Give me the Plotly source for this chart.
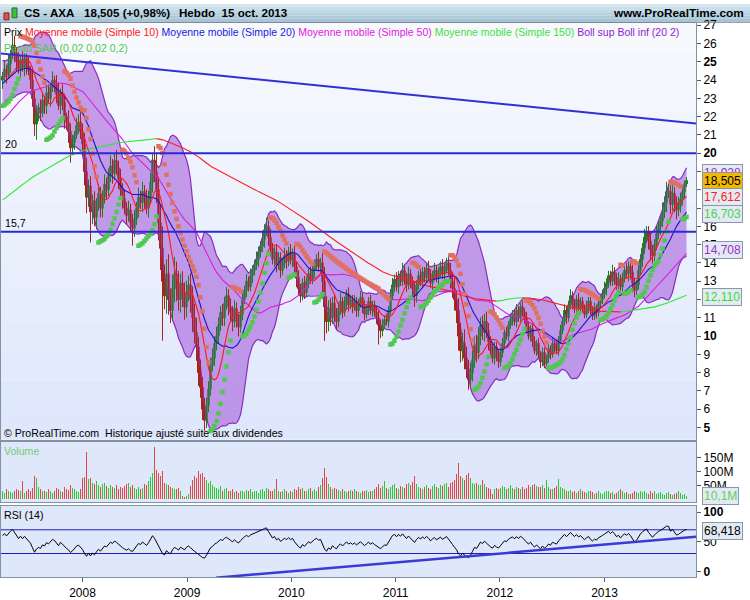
import numpy as np
import pandas as pd
import plotly.graph_objects as go

# ---------------- data ----------------
LAST_DATE = "2013-10-15"

# weekly closes before the visible window (needed by the long averages)
PRE_CLOSE = [
    12.4, 12.7, 12.3, 12.0, 12.2, 12.6, 12.8, 12.5, 12.3, 12.1, 11.8, 12.0, 12.3, 12.2, 11.9, 12.1, 12.4, 12.7, 12.6, 12.9,
    13.1, 12.8, 13.0, 13.3, 13.2, 13.0, 13.4, 13.6, 13.3, 13.5, 13.8, 13.6, 13.4, 13.7, 14.0, 13.8, 14.1, 14.3, 14.0, 14.2,
    14.4, 14.1, 13.8, 14.0, 14.3, 14.5, 14.2, 13.9, 14.1, 14.4, 14.7, 14.6, 14.9, 15.1, 14.8, 15.0, 15.3, 15.5, 15.2, 15.4,
    15.7, 15.6, 15.3, 15.0, 15.2, 14.8, 14.5, 14.9, 15.2, 15.5, 15.8, 16.0, 16.2, 15.9, 16.3, 16.5, 16.4,
    17.5, 17.8, 18.1, 17.9, 18.3, 18.6, 18.4, 18.8, 19.1, 18.9, 19.3, 19.6, 19.4, 19.8, 20.1, 19.8, 20.2, 20.5, 20.3, 19.9,
    20.4, 20.6, 20.3,
    20.0, 19.4, 18.8, 18.3, 18.6, 18.9, 18.5, 18.9, 19.2, 19.5, 19.3, 19.7, 20.0, 19.8, 20.2, 20.5, 20.3, 20.7, 21.0, 20.8,
    21.2, 21.5, 21.3, 21.6, 21.9, 21.7, 22.0,
    22.3, 22.1, 22.5, 22.8, 22.6, 22.9, 23.2, 23.0, 23.4, 23.7, 23.5, 23.9, 24.2, 24.0, 24.4, 24.7, 24.5, 24.9, 24.6, 23.8,
    23.2, 23.6, 24.0,
]

# weekly closes of the visible window (2007-03-27 .. 2013-10-15)
CLOSE = [
    24.2, 24.6, 24.3, 24.9, 25.4, 25.9, 25.5, 25.0, 24.6, 25.1, 24.7, 25.2, 24.8, 24.5,
    24.0, 23.0, 21.6, 22.2,
    22.5, 22.2, 22.9, 22.6, 23.3, 23.0, 23.6, 24.0, 23.8, 23.2,
    22.6, 23.3, 22.8, 22.0, 21.7,
    21.2, 20.3, 20.6,
    21.0, 21.5, 21.7, 21.2,
    20.5, 19.0, 17.6, 18.2, 16.8, 17.4,
    16.5, 17.2, 17.8, 17.0,
    17.6, 18.3, 18.0, 18.8, 19.3, 18.9, 19.6, 19.2,
    18.6, 18.0, 17.5, 17.0, 16.6, 16.9, 16.2, 15.9,
    16.4, 17.0, 17.6, 17.3, 17.9, 17.5, 17.0, 17.6, 18.4, 19.6, 19.0,
    18.0, 16.2, 14.8, 13.0,
    12.2, 13.4, 12.0, 11.4, 12.6, 13.4, 12.8, 12.0, 12.9, 12.2, 11.6, 12.4, 12.8,
    12.0, 11.0, 10.2, 9.4, 8.0, 7.2, 6.0, 5.4, 6.2,
    7.1, 8.4, 8.8, 9.6, 10.0,
    10.6, 11.3, 11.0, 11.8, 12.2, 11.6,
    11.3, 10.8, 11.5, 10.9, 10.5, 11.2, 12.0,
    12.5, 13.0, 12.7, 13.3, 13.6, 13.9, 14.2, 14.6, 14.9, 15.3, 15.8, 16.0,
    15.4, 14.8, 14.2, 14.6, 13.9, 14.3, 13.6, 14.0,
    14.4, 14.1, 14.6, 14.2, 14.5, 13.8, 13.2,
    12.6, 12.2, 12.9, 12.4, 13.0,
    13.4, 13.1, 13.6, 13.9, 14.2, 13.8, 14.0,
    13.0, 11.6, 10.8, 11.5,
    11.0, 11.8, 11.2, 10.8, 11.5, 11.9, 11.3, 11.8, 12.3, 11.7, 12.0,
    11.6, 11.9, 11.4, 11.8, 12.1, 11.6, 11.2, 11.5, 11.9, 11.4, 11.7, 11.3, 11.0, 10.6, 10.3,
    10.6, 10.9, 10.8, 11.4, 12.2, 12.8, 13.1,
    12.7, 13.3, 13.0, 13.6, 13.2, 12.8, 13.4,
    13.0, 12.6, 12.2, 12.8, 13.3, 13.0, 13.5, 13.2, 13.7, 13.4, 12.9, 13.3, 13.6, 13.2, 13.5, 13.8, 13.4, 13.7, 14.0, 13.6,
    13.0, 12.6, 12.0, 11.4,
    10.0, 9.2, 9.6, 8.8, 8.2, 7.6, 8.0,
    8.7, 9.5, 9.1, 10.0, 10.6, 10.2, 10.8, 10.3, 9.7,
    9.2, 8.8, 9.4, 8.9, 8.6, 9.1,
    9.6, 10.2, 10.0, 10.6, 10.9, 11.2, 10.8, 11.4, 11.0, 11.6, 11.3, 11.0,
    10.5, 10.0, 10.4, 9.7, 9.2, 9.6, 9.0, 8.6, 9.1, 8.5, 8.8,
    9.3, 9.0, 9.6, 9.4, 9.2, 9.8, 10.3,
    10.8, 11.4, 11.0, 11.7, 12.2, 11.8, 11.5, 12.0, 11.6,
    11.9, 11.5, 11.2, 11.6, 11.9, 11.4, 11.1, 11.5, 11.3, 11.8, 12.0, 12.3,
    12.6, 12.9, 13.3, 13.0, 13.5, 13.2, 12.8, 13.1, 12.7, 13.2, 13.6, 13.4, 13.8, 13.5, 12.9, 12.5,
    12.8, 13.6, 14.2, 14.8, 15.4, 15.7, 15.2, 14.7, 14.4, 15.0, 15.6, 16.0, 16.3,
    16.8, 17.3, 17.9, 17.9, 17.2, 17.8, 17.3, 16.9, 17.1, 17.5, 17.9, 18.33, 18.505,
]

# upper / lower shadows of each weekly candle, in % of the close
WICK_UP_PCT = [
    1, 2, 1, 2, 1, 2, 2, 1, 2, 1, 2, 1, 1, 2, 1, 3, 2, 2, 1, 2,
    2, 1, 2, 2, 1, 2, 1, 2, 3, 1, 2, 2, 1, 3, 2, 2, 1, 2, 2, 3,
    2, 3, 4, 2, 3, 2, 3, 2, 3, 2, 2, 3, 2, 2, 3, 2, 2, 3, 2, 3,
    2, 3, 2, 3, 2, 3, 3, 2, 3, 2, 3, 2, 3, 2, 3, 2, 4, 5, 4, 6,
    8, 7, 6, 8, 5, 6, 7, 5, 6, 4, 5, 6, 5, 4, 5, 6, 7, 8, 6, 9,
    8, 10, 7, 6, 5, 6, 4, 5, 4, 3, 4, 3, 4, 3, 4, 3, 4, 3, 3, 4,
    3, 2, 3, 2, 3, 2, 2, 3, 2, 2, 3, 2, 3, 2, 3, 2, 2, 3, 2, 2,
    2, 3, 2, 2, 3, 2, 3, 2, 3, 2, 2, 3, 2, 2, 3, 2, 2, 2, 3, 2,
    4, 6, 5, 4, 5, 3, 4, 3, 3, 4, 2, 3, 2, 3, 2, 2, 3, 2, 2, 3,
    2, 3, 2, 2, 3, 2, 2, 3, 4, 3, 3, 2, 3, 2, 3, 3, 2, 3, 2, 2,
    3, 2, 2, 3, 2, 2, 3, 2, 2, 3, 2, 2, 2, 3, 2, 2, 3, 2, 2, 2,
    3, 2, 2, 3, 3, 4, 5, 4, 6, 7, 6, 8, 7, 6, 7, 6, 5, 6, 5, 4,
    5, 4, 5, 4, 3, 4, 3, 3, 4, 3, 3, 2, 3, 2, 3, 2, 2, 3, 2, 2,
    3, 2, 3, 3, 2, 3, 3, 2, 3, 2, 3, 3, 2, 3, 2, 3, 2, 3, 2, 3,
    2, 3, 2, 2, 3, 2, 2, 2, 3, 2, 2, 2, 3, 2, 2, 2, 3, 2, 2, 2,
    2, 3, 2, 2, 2, 3, 2, 2, 3, 2, 2, 2, 3, 2, 2, 3, 2, 2, 3, 2,
    2, 3, 2, 2, 3, 2, 2, 3, 2, 2, 3, 2, 3, 2, 2, 3, 2, 2, 3, 2,
    2, 1, 1,
]
WICK_DN_PCT = [
    2, 1, 2, 1, 2, 1, 2, 2, 1, 2, 1, 2, 2, 1, 2, 2, 3, 4, 2, 2,
    1, 2, 2, 1, 2, 1, 2, 2, 1, 2, 2, 3, 2, 3, 4, 2, 2, 1, 2, 2,
    3, 4, 5, 3, 10, 4, 3, 4, 2, 3, 3, 2, 3, 2, 2, 3, 2, 2, 3, 2,
    3, 2, 3, 2, 3, 6, 3, 2, 3, 2, 3, 3, 2, 3, 2, 3, 3, 4, 6, 8,
    25, 6, 8, 7, 6, 5, 6, 7, 5, 6, 5, 6, 5, 4, 6, 7, 6, 8, 9, 8,
    10, 11, 8, 6, 5, 4, 5, 4, 4, 3, 4, 4, 3, 4, 4, 5, 3, 4, 5, 3,
    3, 2, 3, 2, 2, 3, 2, 2, 3, 2, 2, 3, 2, 3, 3, 2, 3, 3, 2, 3,
    2, 2, 3, 2, 2, 3, 3, 4, 3, 3, 2, 3, 2, 3, 2, 2, 3, 2, 2, 3,
    5, 16, 6, 5, 4, 3, 4, 4, 3, 3, 3, 2, 3, 3, 2, 3, 2, 3, 3, 2,
    3, 3, 2, 3, 2, 3, 2, 3, 10, 4, 3, 2, 2, 3, 2, 2, 3, 2, 3, 2,
    2, 3, 3, 2, 3, 4, 5, 3, 2, 2, 3, 2, 2, 3, 2, 3, 2, 2, 3, 2,
    2, 3, 2, 2, 3, 4, 5, 6, 8, 7, 6, 7, 6, 7, 5, 6, 5, 6, 4, 5,
    4, 5, 4, 5, 4, 3, 4, 3, 4, 3, 3, 3, 2, 3, 2, 3, 2, 3, 2, 2,
    2, 3, 3, 2, 3, 3, 2, 3, 3, 4, 3, 3, 2, 3, 3, 2, 3, 2, 3, 2,
    2, 2, 3, 2, 2, 3, 2, 2, 2, 3, 2, 2, 2, 3, 2, 2, 2, 3, 2, 2,
    2, 2, 3, 2, 2, 2, 3, 2, 2, 3, 2, 2, 2, 3, 3, 4, 3, 2, 2, 2,
    3, 2, 2, 3, 4, 3, 2, 2, 2, 3, 2, 2, 3, 2, 3, 2, 3, 3, 2, 2,
    2, 2, 1,
]

# weekly volume, millions of shares
VOLUME_M = [
    28, 22, 35, 30, 26, 24, 30, 38, 32, 28, 65, 22, 30, 35, 28, 40, 83, 75, 45, 35,
    30, 28, 25, 35, 30, 22, 28, 40, 35, 30, 26, 45, 38, 32, 50, 42, 36, 30, 25, 38,
    75, 80, 169, 72, 78, 60, 55, 65, 50, 45, 55, 60, 48, 42, 50, 45, 40, 52, 38, 45,
    40, 48, 55, 60, 45, 50, 42, 38, 45, 35, 40, 55, 50, 65, 80, 95, 190, 107, 95, 85,
    100, 60, 55, 50, 45, 42, 38, 35, 40, 30, 12, 8, 10, 18, 48, 70, 85, 75, 101, 90,
    95, 80, 70, 60, 65, 50, 45, 40, 35, 48, 30, 38, 42, 30, 28, 35, 25, 30, 24, 28,
    30, 26, 32, 28, 35, 25, 30, 28, 22, 32, 36, 28, 40, 35, 30, 30, 38, 71, 30, 25,
    30, 35, 28, 22, 30, 25, 38, 32, 45, 35, 40, 30, 28, 35, 42, 30, 38, 28, 45, 50,
    77, 113, 80, 55, 45, 38, 40, 35, 32, 30, 38, 28, 25, 30, 32, 28, 35, 30, 26, 24,
    28, 30, 32, 25, 30, 28, 35, 45, 55, 40, 48, 65, 42, 38, 45, 50, 55, 40, 35, 48,
    45, 40, 55, 60, 50, 62, 83, 55, 45, 40, 38, 45, 50, 42, 38, 48, 55, 45, 40, 52,
    48, 55, 60, 45, 58, 62, 70, 90, 131, 85, 78, 70, 88, 95, 75, 60, 55, 58, 52, 50,
    69, 55, 45, 40, 35, 20, 38, 42, 35, 40, 48, 45, 38, 42, 50, 40, 36, 45, 40, 38,
    45, 38, 42, 50, 45, 52, 55, 48, 45, 45, 50, 42, 68, 45, 38, 35, 42, 48, 71, 45,
    40, 35, 30, 28, 32, 25, 30, 22, 28, 35, 30, 26, 22, 28, 30, 25, 20, 24, 28, 22,
    18, 25, 30, 28, 22, 26, 20, 24, 30, 36, 28, 22, 25, 20, 18, 24, 30, 26, 22, 28,
    25, 30, 22, 20, 28, 24, 30, 18, 22, 25, 20, 16, 22, 26, 18, 15, 20, 24, 30, 22,
    14, 18, 10.1,
]

YEAR_TICKS = ["2008-01-01", "2009-01-01", "2010-01-01", "2011-01-01", "2012-01-01", "2013-01-01"]
YEAR_LABELS = ["2008", "2009", "2010", "2011", "2012", "2013"]
X_RANGE = ["2007-03-21 18:00", "2013-11-17 06:00"]
PRICE_TICKS = list(range(5, 28))
PRICE_BOLD = [5, 10, 15, 20, 25]
H_LEVELS = [20, 15.7]
H_LEVEL_TEXT = ["20", "15,7"]
MAIN_TREND_X = ["2007-03-21", "2013-11-18"]
MAIN_TREND_Y = [25.46, 21.62]
RSI_TREND_X = ["2009-04-12", "2013-11-18"]
RSI_TREND_Y = [-10.9, 58.2]
RSI_LEVELS = [70, 30]
LAST_VALUES = [18.928, 18.505, 17.612, 16.703, 14.708, 12.110]
LAST_TEXT = ["18,928", "18,505", "17,612", "16,703", "14,708", "12,110"]
LAST_COLORS = ["#9a30c8", "#000000", "#ff2020", "#50d050", "#9a30c8", "#30e030"]
LAST_BG = ["#e4eaf4", "#f4b800", "#e4eaf4", "#e4eaf4", "#e4eaf4", "#e4eaf4"]
VOL_LAST, VOL_LAST_TEXT = 10.1e6, "10,1M"
RSI_LAST, RSI_LAST_TEXT = 68.418, "68,418"

# ---------------- derived series ----------------
n_pre, n = len(PRE_CLOSE), len(CLOSE)
all_close = np.array(PRE_CLOSE + CLOSE, dtype=float)
dates_all = pd.date_range(end=LAST_DATE, periods=n_pre + n, freq="7D")
dates = dates_all[n_pre:]
close = np.array(CLOSE, dtype=float)
open_ = np.concatenate([[PRE_CLOSE[-1]], close[:-1]])
high = np.maximum(open_, close) * (1 + np.array(WICK_UP_PCT) / 100.0)
low = np.minimum(open_, close) * (1 - np.array(WICK_DN_PCT) / 100.0)
up_candle = close >= open_

s = pd.Series(all_close)
ma10 = s.rolling(10).mean().values[n_pre:]
ma20 = s.rolling(20).mean().values[n_pre:]
ma50 = s.rolling(50).mean().values[n_pre:]
ma150_all = s.rolling(150).mean().values
sd20 = s.rolling(20).std(ddof=0).values[n_pre:]
boll_up = ma20 + 2 * sd20
boll_dn = ma20 - 2 * sd20

rising = np.concatenate([[False], np.diff(ma150_all) > 0])[n_pre:]
ma150 = ma150_all[n_pre:]
g150 = np.where(rising, ma150, np.nan)
r150 = np.where(~rising, ma150, np.nan)
for i in range(1, n):
    if rising[i] and not rising[i - 1]:
        g150[i - 1] = ma150[i - 1]
    if (not rising[i]) and rising[i - 1]:
        r150[i - 1] = ma150[i - 1]

# RSI (14), Wilder smoothing
d = np.diff(all_close)
gain, loss = np.clip(d, 0, None), np.clip(-d, 0, None)
ag, al = gain[:14].mean(), loss[:14].mean()
rsi_all = [np.nan] * 15
for k in range(14, len(d)):
    ag = (ag * 13 + gain[k]) / 14
    al = (al * 13 + loss[k]) / 14
    rsi_all.append(100 - 100 / (1 + ag / al) if al > 0 else 100)
rsi = np.array(rsi_all[: len(all_close)])[n_pre:]

# Parabolic SAR (0.02, 0.02, 0.2)
sar = np.zeros(n)
sar_up = np.zeros(n, dtype=bool)
up = True
af = 0.02
ep = high[0]
sar[0] = min(PRE_CLOSE[-20:])
sar_up[0] = True
for i in range(1, n):
    v = sar[i - 1] + af * (ep - sar[i - 1])
    if up:
        v = min(v, low[i - 1], low[max(i - 2, 0)])
        if low[i] < v:
            up, v, ep, af = False, ep, low[i], 0.02
        elif high[i] > ep:
            ep, af = high[i], min(af + 0.02, 0.2)
    else:
        v = max(v, high[i - 1], high[max(i - 2, 0)])
        if high[i] > v:
            up, v, ep, af = True, ep, high[i], 0.02
        elif low[i] < ep:
            ep, af = low[i], min(af + 0.02, 0.2)
    sar[i] = v
    sar_up[i] = up

# ---------------- figure ----------------
FONT = "Liberation Sans, Arial, sans-serif"
W, H = 750, 600
ML, MR = 1, 54
PW = W - ML - MR
DAY = 86400000


def px(x):
    return (x - ML) / PW


def py(y):
    return 1 - y / H


fig = go.Figure()

# Bollinger band
fig.add_trace(go.Scatter(x=dates, y=boll_dn, mode="lines", line=dict(color="#8a2cc0", width=1.2),
                         xaxis="x", yaxis="y", hoverinfo="skip"))
fig.add_trace(go.Scatter(x=dates, y=boll_up, mode="lines", line=dict(color="#8a2cc0", width=1.2),
                         fill="tonexty", fillcolor="rgba(165,95,220,0.6)", xaxis="x", yaxis="y", hoverinfo="skip"))

# candles: wicks then bodies
UP_EDGE, DN_EDGE = "#1a801a", "#a82418"
UP_FILL, DN_FILL = "#3ad23a", "#f08a76"
for mask, col in [(up_candle, UP_EDGE), (~up_candle, DN_EDGE)]:
    wx, wy = [], []
    for dt, lo_, hi_ in zip(dates[mask], low[mask], high[mask]):
        wx += [dt, dt, None]
        wy += [lo_, hi_, None]
    fig.add_trace(go.Scatter(x=wx, y=wy, mode="lines", line=dict(color=col, width=1), xaxis="x", yaxis="y"))
body_lo = np.minimum(open_, close)
body_h = np.maximum(np.abs(close - open_), 0.04)
fig.add_trace(go.Bar(
    x=dates, y=body_h, base=body_lo, width=7 * DAY,
    marker=dict(color=[UP_FILL if u else DN_FILL for u in up_candle],
                line=dict(color=[UP_EDGE if u else DN_EDGE for u in up_candle], width=1)),
    xaxis="x", yaxis="y"))

# moving averages
fig.add_trace(go.Scatter(x=dates, y=ma50, mode="lines", line=dict(color="#d820d8", width=1.1), xaxis="x", yaxis="y"))
fig.add_trace(go.Scatter(x=dates, y=g150, mode="lines", line=dict(color="#30e830", width=1.1), xaxis="x", yaxis="y"))
fig.add_trace(go.Scatter(x=dates, y=r150, mode="lines", line=dict(color="#ff2020", width=1.1), xaxis="x", yaxis="y"))
fig.add_trace(go.Scatter(x=dates, y=ma20, mode="lines", line=dict(color="#1818c8", width=1.1), xaxis="x", yaxis="y"))
fig.add_trace(go.Scatter(x=dates, y=ma10, mode="lines", line=dict(color="#ff1a1a", width=1.1), xaxis="x", yaxis="y"))

# SAR
fig.add_trace(go.Scatter(x=dates, y=np.where(sar_up, sar, np.nan), mode="markers",
                         marker=dict(symbol="square", size=4.5, color="#50c850", line=dict(width=0)),
                         xaxis="x", yaxis="y"))
fig.add_trace(go.Scatter(x=dates, y=np.where(~sar_up, sar, np.nan), mode="markers",
                         marker=dict(symbol="square", size=4.5, color="#e07060", line=dict(width=0)),
                         xaxis="x", yaxis="y"))

# main trend line
fig.add_trace(go.Scatter(x=MAIN_TREND_X, y=MAIN_TREND_Y, mode="lines",
                         line=dict(color="#3030d8", width=2), xaxis="x", yaxis="y"))

# volume
vol = np.array(VOLUME_M) * 1e6
fig.add_trace(go.Bar(x=dates, y=vol,
                     marker=dict(color=["#30c830" if u else "#e04848" for u in up_candle], line=dict(width=0)),
                     width=3.5 * DAY, xaxis="x2", yaxis="y2"))

# RSI
for lv in RSI_LEVELS:
    fig.add_trace(go.Scatter(x=X_RANGE, y=[lv, lv], mode="lines", line=dict(color="#2020c0", width=1),
                             xaxis="x3", yaxis="y3"))
fig.add_trace(go.Scatter(x=dates, y=rsi, mode="lines", line=dict(color="#000000", width=1), xaxis="x3", yaxis="y3"))
fig.add_trace(go.Scatter(x=RSI_TREND_X, y=RSI_TREND_Y, mode="lines", line=dict(color="#3a3ad8", width=2.5),
                         xaxis="x3", yaxis="y3"))

shapes = []
# header gradient
hdr_cols = ["#d6e6ef", "#cbdfea", "#c1d8e5", "#b7d1e0", "#adcadb", "#a6c4d6"]
for k, c in enumerate(hdr_cols):
    shapes.append(dict(type="rect", xref="paper", yref="paper", x0=px(0), x1=px(W), y0=py(3 * (k + 1)), y1=py(3 * k),
                       fillcolor=c, line=dict(width=0), layer="below"))
shapes.append(dict(type="line", xref="paper", yref="paper", x0=px(0), x1=px(W), y0=py(18.5), y1=py(18.5),
                   line=dict(color="#7a8a98", width=1)))
# panel gradients
top_c, bot_c = np.array([248, 250, 254]), np.array([222, 231, 251])
nb = 14
for k in range(nb):
    y0 = 19 + (441 - 19) * k / nb
    y1 = 19 + (441 - 19) * (k + 1) / nb
    c = top_c + (bot_c - top_c) * (k + 0.5) / nb
    shapes.append(dict(type="rect", xref="paper", yref="paper", x0=0, x1=1, y0=py(y1), y1=py(y0),
                       fillcolor="rgb(%d,%d,%d)" % tuple(c), line=dict(width=0), layer="below"))
for (a, b) in [(443, 504), (508, 580)]:
    shapes.append(dict(type="rect", xref="paper", yref="paper", x0=0, x1=1, y0=py(b), y1=py(a),
                       fillcolor="#dfe7fa", line=dict(width=0), layer="below"))
# horizontal levels
for lv in H_LEVELS:
    shapes.append(dict(type="line", xref="paper", yref="y", x0=0, x1=1, y0=lv, y1=lv,
                       line=dict(color="#2a2ad2", width=2), layer="above"))
# header icon
shapes.append(dict(type="rect", xref="paper", yref="paper", x0=px(4), x1=px(9), y0=py(16), y1=py(9),
                   fillcolor="#e05050", line=dict(color="#902020", width=1)))
shapes.append(dict(type="rect", xref="paper", yref="paper", x0=px(12), x1=px(17), y0=py(14), y1=py(4),
                   fillcolor="#40c040", line=dict(color="#207020", width=1)))

ann = []


def text(x, y, t, size=11, color="#000", bold=False, anchor="left"):
    ann.append(dict(xref="paper", yref="paper", x=px(x), y=py(y), text=("<b>%s</b>" % t) if bold else t,
                    showarrow=False, xanchor=anchor, yanchor="middle",
                    font=dict(family=FONT, size=size, color=color)))


text(22, 9, "CS - AXA", 11.6, bold=True)
text(82, 9, "18,505 (+0,98%)", 11.6, bold=True)
text(177, 9, "Hebdo  15 oct. 2013", 11.6, bold=True)
text(746, 9, "www.ProRealTime.com", 11.8, bold=True, anchor="right")
legend = ('Prix <span style="color:#ff2020">Moyenne mobile (Simple 10)</span> '
          '<span style="color:#2020e0">Moyenne mobile (Simple 20)</span> '
          '<span style="color:#e020e0">Moyenne mobile (Simple 50)</span> '
          '<span style="color:#40e040">Moyenne mobile (Simple 150)</span> '
          '<span style="color:#9020d0">Boll sup Boll inf (20 2)</span>')
text(2, 28, legend, 10.5)
text(2, 45, "Parab SAR (0,02 0,02 0,2)", 10.5, "#50c850")
text(2, 434, "© ProRealTime.com  Historique ajusté suite aux dividendes", 10.6)
text(2, 452, "Volume", 10.6, "#70cc70")
text(2, 517, "RSI (14)", 10.6)
for lv, t in zip(H_LEVELS, H_LEVEL_TEXT):
    ann.append(dict(xref="paper", yref="y", x=px(3), y=lv, text=t, showarrow=False, xanchor="left",
                    yanchor="bottom", yshift=1, font=dict(family=FONT, size=10.6, color="#000")))

for v, t, c, bg in zip(LAST_VALUES, LAST_TEXT, LAST_COLORS, LAST_BG):
    ann.append(dict(xref="paper", yref="y", x=px(702), y=v, text=t, showarrow=False, xanchor="left",
                    yanchor="middle", bgcolor=bg, bordercolor="#8898a8", borderwidth=1, borderpad=1,
                    font=dict(family=FONT, size=12, color=c)))
ann.append(dict(xref="paper", yref="y2", x=px(702), y=VOL_LAST, text=VOL_LAST_TEXT, showarrow=False,
                xanchor="left", yanchor="middle", bgcolor="#e4eaf4", bordercolor="#8898a8", borderwidth=1,
                borderpad=1, font=dict(family=FONT, size=12, color="#60d060")))
ann.append(dict(xref="paper", yref="y3", x=px(702), y=RSI_LAST, text=RSI_LAST_TEXT, showarrow=False,
                xanchor="left", yanchor="middle", bgcolor="#e4eaf4", bordercolor="#8898a8", borderwidth=1,
                borderpad=1, font=dict(family=FONT, size=12, color="#000")))

axis_common = dict(showgrid=False, zeroline=False, showline=True, linecolor="#8292a2", mirror=True,
                   fixedrange=True)
xcommon = dict(axis_common, type="date", range=X_RANGE, domain=[0, 1])
ycommon = dict(axis_common, side="right", ticks="outside", ticklen=4, tickcolor="#506070",
               tickfont=dict(family=FONT, size=12, color="#000"))

fig.update_layout(
    width=W, height=H, margin=dict(l=ML, r=MR, t=0, b=0),
    paper_bgcolor="white", plot_bgcolor="rgba(0,0,0,0)", showlegend=False, hovermode=False,
    bargap=0,
    xaxis=dict(xcommon, anchor="y", showticklabels=False, ticks=""),
    xaxis2=dict(xcommon, anchor="y2", showticklabels=False, ticks="", matches="x"),
    xaxis3=dict(xcommon, anchor="y3", tickvals=YEAR_TICKS, ticktext=YEAR_LABELS, ticks="outside", ticklen=4,
                tickcolor="#506070", tickfont=dict(family=FONT, size=12, color="#000"), matches="x"),
    yaxis=dict(ycommon, anchor="x", domain=[py(441), py(19)], range=[4.324, 27.135],
               tickvals=PRICE_TICKS,
               ticktext=[("<b>%d</b>" % t) if t in PRICE_BOLD else str(t) for t in PRICE_TICKS]),
    yaxis2=dict(ycommon, anchor="x2", domain=[py(504), py(443)], range=[-10.7e6, 207e6],
                tickvals=[50e6, 100e6, 150e6], ticktext=["50M", "100M", "150M"]),
    yaxis3=dict(ycommon, anchor="x3", domain=[py(580), py(508)], range=[-10, 110],
                tickvals=[0, 50, 100], ticktext=["<b>0</b>", "50", "<b>100</b>"]),
    shapes=shapes, annotations=ann,
)

fig.write_html("out.html", config={"displayModeBar": False, "staticPlot": True},
               post_script="document.body.style.margin='0';")
